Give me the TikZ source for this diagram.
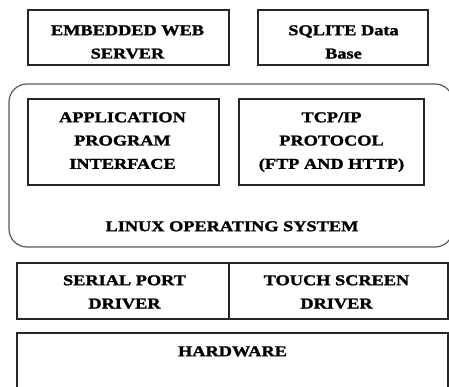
\documentclass[tikz,border=0pt]{standalone}
\usepackage{fontspec}
\setmainfont{Liberation Serif}[FakeStretch=1.22,BoldFeatures={FakeBold=1.6}]
\newcommand\firstline{\rule{0pt}{11pt}}
\begin{document}
\begin{tikzpicture}[x=1pt,y=-1pt,
  box/.style={draw=black!85,line width=1.3pt,rectangle,inner sep=0pt},
  osbox/.style={draw=black!65,line width=1.2pt,rectangle,rounded corners=18pt,inner sep=0pt},
  txt/.style={inner sep=0pt,anchor=north,align=center,
    font=\fontsize{15}{23.3}\selectfont\bfseries}]
\useasboundingbox (0,0) rectangle (449,387);
\clip (0,0) rectangle (449,387);
% boxes
\node[box,minimum width=201pt,minimum height=55pt] (ews) at (128.5,37.5) {};
\node[box,minimum width=170pt,minimum height=55pt] (sql) at (343,37.5) {};
\node[osbox,minimum width=444pt,minimum height=163pt] (os) at (231,165.5) {};
\node[box,minimum width=191pt,minimum height=86pt] (api) at (123.5,142) {};
\node[box,minimum width=185pt,minimum height=86pt] (tcp) at (331.5,142) {};
\node[box,minimum width=212pt,minimum height=56pt] (ser) at (123,291) {};
\node[box,minimum width=219pt,minimum height=56pt] (tch) at (338.5,291) {};
\node[box,minimum width=431pt,minimum height=70pt] (hw) at (232.5,368) {};
% texts (placed by first baseline minus 11pt)
\node[txt] (ewst) at (127.5,24) {\firstline EMBEDDED WEB\\SERVER};
\node[txt] (sqlt) at (343.5,24) {\firstline SQLITE Data\\Base};
\node[txt] (apit) at (122.5,111) {\firstline APPLICATION\\PROGRAM\\INTERFACE};
\node[txt] (tcpt) at (331.5,111) {\firstline TCP/IP\\PROTOCOL\\(FTP AND HTTP)};
\node[txt] (linux) at (232,220) {\firstline LINUX OPERATING SYSTEM};
\node[txt] (sert) at (124.5,274) {\firstline SERIAL PORT\\DRIVER};
\node[txt] (tcht) at (336.5,274) {\firstline TOUCH SCREEN\\DRIVER};
\node[txt] (hwl) at (232.5,345) {\firstline HARDWARE};
\end{tikzpicture}
\end{document}
